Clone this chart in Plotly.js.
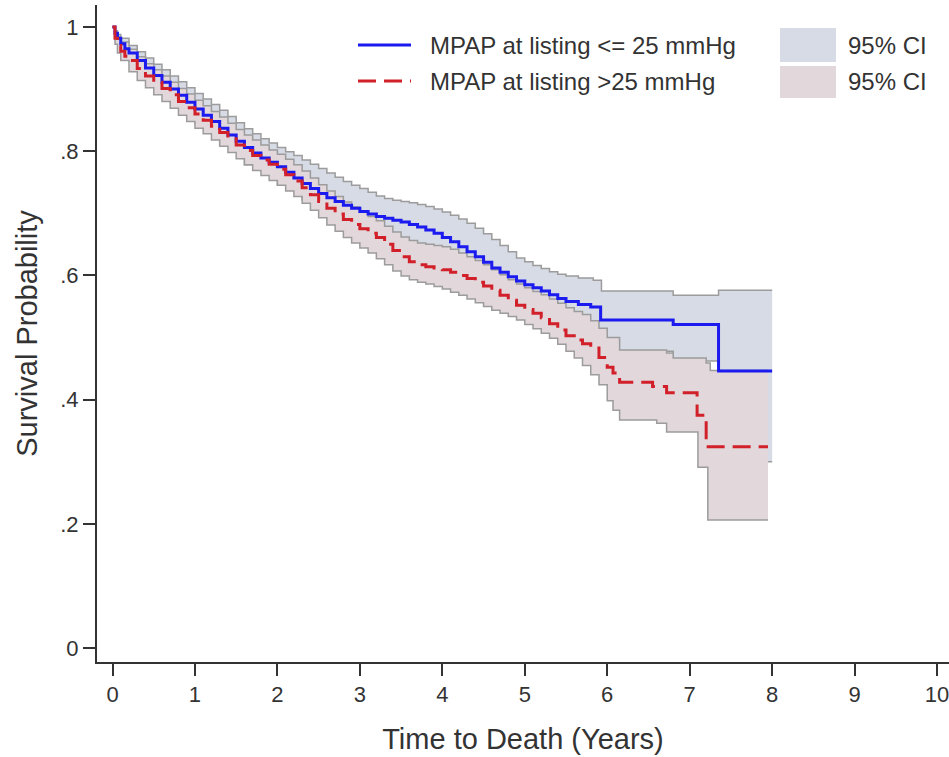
<!DOCTYPE html>
<html><head><meta charset="utf-8">
<script src="https://cdn.plot.ly/plotly-3.0.1.min.js"></script>
<style>html,body{margin:0;padding:0;background:#fff}</style>
</head><body><div id="chart" style="width:949px;height:757px"></div>
<script>
// ---- MPAP at listing <= 25 mmHg ----
const lowTime = [0,0.03,0.06,0.1,0.15,0.2,0.3,0.4,0.5,0.6,0.7,0.8,0.9,1.0,1.1,1.2,1.3,1.4,1.5,1.6,1.7,1.8,1.9,2.0,2.1,2.2,2.3,2.4,2.5,2.6,2.7,2.8,2.9,3.0,3.1,3.2,3.3,3.4,3.5,3.6,3.7,3.8,3.9,4.0,4.1,4.2,4.3,4.4,4.5,4.6,4.7,4.8,4.9,5.0,5.1,5.2,5.3,5.4,5.5,5.65,5.8,5.92,6.8,7.35,8.0];
const lowSurv = [1.000,0.990,0.982,0.973,0.965,0.958,0.946,0.934,0.922,0.911,0.900,0.890,0.879,0.868,0.858,0.848,0.837,0.826,0.816,0.806,0.797,0.789,0.782,0.775,0.766,0.757,0.748,0.740,0.732,0.725,0.719,0.713,0.708,0.703,0.699,0.695,0.692,0.689,0.686,0.682,0.678,0.673,0.668,0.661,0.654,0.646,0.638,0.630,0.621,0.612,0.605,0.598,0.591,0.585,0.580,0.575,0.569,0.563,0.558,0.553,0.549,0.528,0.521,0.446,0.446];

const lowUpperTime = [0,0.03,0.06,0.1,0.2,0.3,0.4,0.5,0.6,0.7,0.8,0.9,1.0,1.1,1.2,1.3,1.4,1.5,1.6,1.7,1.8,1.9,2.0,2.1,2.2,2.3,2.4,2.5,2.6,2.7,2.8,2.9,3.0,3.1,3.2,3.3,3.4,3.5,3.6,3.7,3.8,3.9,4.0,4.1,4.2,4.3,4.4,4.5,4.6,4.7,4.8,4.9,5.0,5.1,5.2,5.3,5.4,5.5,5.65,5.83,5.93,6.8,7.35,8.0];
const lowUpper = [1.000,0.994,0.988,0.982,0.970,0.960,0.950,0.940,0.931,0.921,0.912,0.902,0.893,0.884,0.875,0.866,0.856,0.846,0.836,0.828,0.820,0.813,0.806,0.799,0.793,0.786,0.779,0.772,0.765,0.758,0.751,0.745,0.740,0.734,0.728,0.724,0.721,0.719,0.717,0.714,0.711,0.707,0.702,0.697,0.691,0.684,0.676,0.667,0.658,0.648,0.638,0.628,0.622,0.616,0.611,0.606,0.602,0.599,0.596,0.592,0.575,0.568,0.576,0.576];

const lowLowerTime = [0,0.03,0.06,0.1,0.2,0.3,0.5,0.7,1.0,1.3,1.6,2.0,2.3,2.6,3.0,3.3,3.6,4.0,4.3,4.6,5.0,5.3,5.6,5.92,6.8,7.35,8.0];
const lowLower = [1.000,0.985,0.975,0.963,0.945,0.932,0.905,0.880,0.845,0.810,0.778,0.745,0.722,0.690,0.667,0.657,0.645,0.622,0.595,0.568,0.548,0.530,0.512,0.478,0.462,0.300,0.300];

// ---- MPAP at listing > 25 mmHg ----
const highTime = [0,0.03,0.06,0.1,0.15,0.2,0.3,0.4,0.5,0.6,0.7,0.8,0.9,1.0,1.1,1.2,1.3,1.4,1.5,1.6,1.7,1.8,1.9,2.0,2.1,2.2,2.3,2.4,2.5,2.6,2.7,2.8,2.9,3.0,3.1,3.2,3.3,3.4,3.5,3.6,3.7,3.8,3.9,4.0,4.1,4.2,4.3,4.4,4.5,4.6,4.7,4.8,4.9,5.0,5.1,5.2,5.3,5.4,5.5,5.6,5.7,5.8,5.9,6.0,6.07,6.15,6.55,6.72,7.09,7.2,7.95];
const highSurv = [1.000,0.982,0.970,0.961,0.953,0.946,0.933,0.921,0.911,0.901,0.891,0.880,0.870,0.860,0.850,0.840,0.830,0.820,0.810,0.801,0.793,0.786,0.779,0.771,0.762,0.752,0.741,0.730,0.719,0.708,0.699,0.690,0.682,0.675,0.668,0.661,0.650,0.640,0.630,0.622,0.617,0.614,0.612,0.609,0.605,0.600,0.595,0.589,0.583,0.576,0.568,0.560,0.552,0.545,0.539,0.532,0.522,0.512,0.503,0.496,0.490,0.483,0.468,0.452,0.443,0.428,0.421,0.411,0.375,0.324,0.324];

const highUpperTime = [0,0.03,0.06,0.1,0.2,0.3,0.4,0.5,0.6,0.7,0.8,0.9,1.0,1.1,1.2,1.3,1.4,1.5,1.6,1.7,1.8,1.9,2.0,2.1,2.2,2.3,2.4,2.5,2.6,2.7,2.8,2.9,3.0,3.1,3.2,3.3,3.4,3.5,3.6,3.7,3.8,3.9,4.0,4.1,4.2,4.3,4.4,4.5,4.6,4.7,4.8,4.9,5.0,5.1,5.2,5.3,5.4,5.5,5.6,5.7,5.8,5.9,6.0,6.15,6.72,6.8,7.2,7.25,7.95];
const highUpper = [1.000,0.992,0.984,0.976,0.964,0.952,0.941,0.931,0.921,0.911,0.901,0.892,0.882,0.873,0.864,0.855,0.845,0.835,0.826,0.818,0.810,0.802,0.795,0.787,0.778,0.768,0.757,0.746,0.736,0.727,0.718,0.710,0.703,0.695,0.688,0.679,0.670,0.662,0.656,0.652,0.650,0.648,0.646,0.642,0.636,0.630,0.624,0.617,0.609,0.601,0.593,0.586,0.580,0.574,0.569,0.562,0.555,0.548,0.542,0.537,0.527,0.515,0.500,0.480,0.475,0.467,0.459,0.447,0.447];

const highLowerTime = [0,0.03,0.06,0.1,0.2,0.3,0.4,0.5,0.6,0.7,0.8,0.9,1.0,1.1,1.2,1.3,1.4,1.5,1.6,1.7,1.8,1.9,2.0,2.1,2.2,2.3,2.4,2.5,2.6,2.7,2.8,2.9,3.0,3.1,3.2,3.3,3.4,3.5,3.6,3.7,3.8,3.9,4.0,4.1,4.2,4.3,4.4,4.5,4.6,4.7,4.8,4.9,5.0,5.1,5.2,5.3,5.4,5.5,5.6,5.7,5.8,5.9,6.0,6.07,6.15,6.6,6.72,7.1,7.22,7.95];
const highLower = [1.000,0.972,0.958,0.946,0.928,0.914,0.902,0.891,0.880,0.869,0.858,0.848,0.837,0.828,0.818,0.808,0.798,0.788,0.778,0.769,0.761,0.753,0.745,0.736,0.727,0.716,0.705,0.693,0.681,0.671,0.661,0.652,0.644,0.636,0.627,0.617,0.607,0.599,0.593,0.589,0.586,0.582,0.578,0.573,0.568,0.562,0.556,0.550,0.544,0.539,0.534,0.528,0.521,0.514,0.507,0.499,0.489,0.478,0.467,0.455,0.440,0.424,0.398,0.383,0.367,0.362,0.348,0.291,0.206,0.206];

// ---- tick labels & legend text ----
const xTickVals = [0,1,2,3,4,5,6,7,8,9,10];
const yTickVals = [0,0.2,0.4,0.6,0.8,1];
const yTickText = ['0','.2','.4','.6','.8','1'];
const seriesNames = ['MPAP at listing <= 25 mmHg', 'MPAP at listing >25 mmHg'];
const ciName = '95% CI';

const BLUE = '#1b1bf0', RED = '#d2202a';
const BLUE_CI = '#d7dbe5', RED_CI = '#e2d7da', CI_LINE = '#9c9c9c';
const TXT = '#333333';
const FONT = 'Liberation Sans, Arial, sans-serif';

const ciLine = {color: CI_LINE, width: 1.5, shape: 'hv'};
const traces = [
  {x: lowLowerTime, y: lowLower, mode: 'lines', line: ciLine, showlegend: false, hoverinfo: 'skip'},
  {x: lowUpperTime, y: lowUpper, mode: 'lines', line: ciLine, fill: 'tonexty', fillcolor: BLUE_CI, showlegend: false, hoverinfo: 'skip'},
  {x: highLowerTime, y: highLower, mode: 'lines', line: ciLine, showlegend: false, hoverinfo: 'skip'},
  {x: highUpperTime, y: highUpper, mode: 'lines', line: ciLine, fill: 'tonexty', fillcolor: RED_CI, showlegend: false, hoverinfo: 'skip'},
  {x: lowTime, y: lowSurv, mode: 'lines', name: seriesNames[0], line: {color: BLUE, width: 3, shape: 'hv'}, showlegend: false},
  {x: highTime, y: highSurv, mode: 'lines', name: seriesNames[1], line: {color: RED, width: 3, shape: 'hv', dash: '18px,8px'}, showlegend: false}
];

// plot area in pixels: left 97, right 949, top 5, bottom 662
const PL = 97, PR = 949, PT = 5, PB = 662;
const px = v => (v - PL) / (PR - PL);
const py = v => (PB - v) / (PB - PT);

const shapes = [
  {type: 'line', xref: 'paper', yref: 'paper', x0: px(358), x1: px(411), y0: py(45), y1: py(45), line: {color: BLUE, width: 3}},
  {type: 'line', xref: 'paper', yref: 'paper', x0: px(358), x1: px(411), y0: py(81), y1: py(81), line: {color: RED, width: 3, dash: '18px,8px'}},
  {type: 'rect', xref: 'paper', yref: 'paper', x0: px(780), x1: px(836), y0: py(62), y1: py(28), fillcolor: BLUE_CI, line: {width: 0}},
  {type: 'rect', xref: 'paper', yref: 'paper', x0: px(780), x1: px(836), y0: py(98), y1: py(66), fillcolor: RED_CI, line: {width: 0}}
];
const legFont = {family: FONT, size: 24, color: TXT};
const annotations = [
  {xref: 'paper', yref: 'paper', x: px(428), y: py(45), xanchor: 'left', yanchor: 'middle', text: seriesNames[0], showarrow: false, font: legFont},
  {xref: 'paper', yref: 'paper', x: px(428), y: py(81), xanchor: 'left', yanchor: 'middle', text: seriesNames[1], showarrow: false, font: legFont},
  {xref: 'paper', yref: 'paper', x: px(846), y: py(45), xanchor: 'left', yanchor: 'middle', text: ciName, showarrow: false, font: legFont},
  {xref: 'paper', yref: 'paper', x: px(846), y: py(81), xanchor: 'left', yanchor: 'middle', text: ciName, showarrow: false, font: legFont}
];

const axisCommon = {
  showgrid: false, zeroline: false, showline: true, linecolor: TXT, linewidth: 2,
  ticks: 'outside', ticklen: 12, tickwidth: 2, tickcolor: TXT,
  ticklabeloverflow: 'allow',
  tickfont: {family: FONT, size: 22, color: TXT}
};

const layout = {
  width: 949, height: 757,
  margin: {l: PL, r: 949 - PR, t: PT, b: 757 - PB, pad: 0},
  paper_bgcolor: '#ffffff', plot_bgcolor: '#ffffff',
  showlegend: false,
  font: {family: FONT, color: TXT},
  xaxis: Object.assign({}, axisCommon, {
    range: [-0.188, 10.145], tickmode: 'array', tickvals: xTickVals,
    title: {text: 'Time to Death (Years)', font: {family: FONT, size: 29, color: TXT}, standoff: 22}
  }),
  yaxis: Object.assign({}, axisCommon, {
    range: [-0.0225, 1.0354], tickmode: 'array', tickvals: yTickVals, ticktext: yTickText,
    title: {text: 'Survival Probability', font: {family: FONT, size: 29, color: TXT}, standoff: 14}
  }),
  shapes: shapes,
  annotations: annotations
};

Plotly.newPlot('chart', traces, layout, {displayModeBar: false, staticPlot: true});
</script>
</body></html>
